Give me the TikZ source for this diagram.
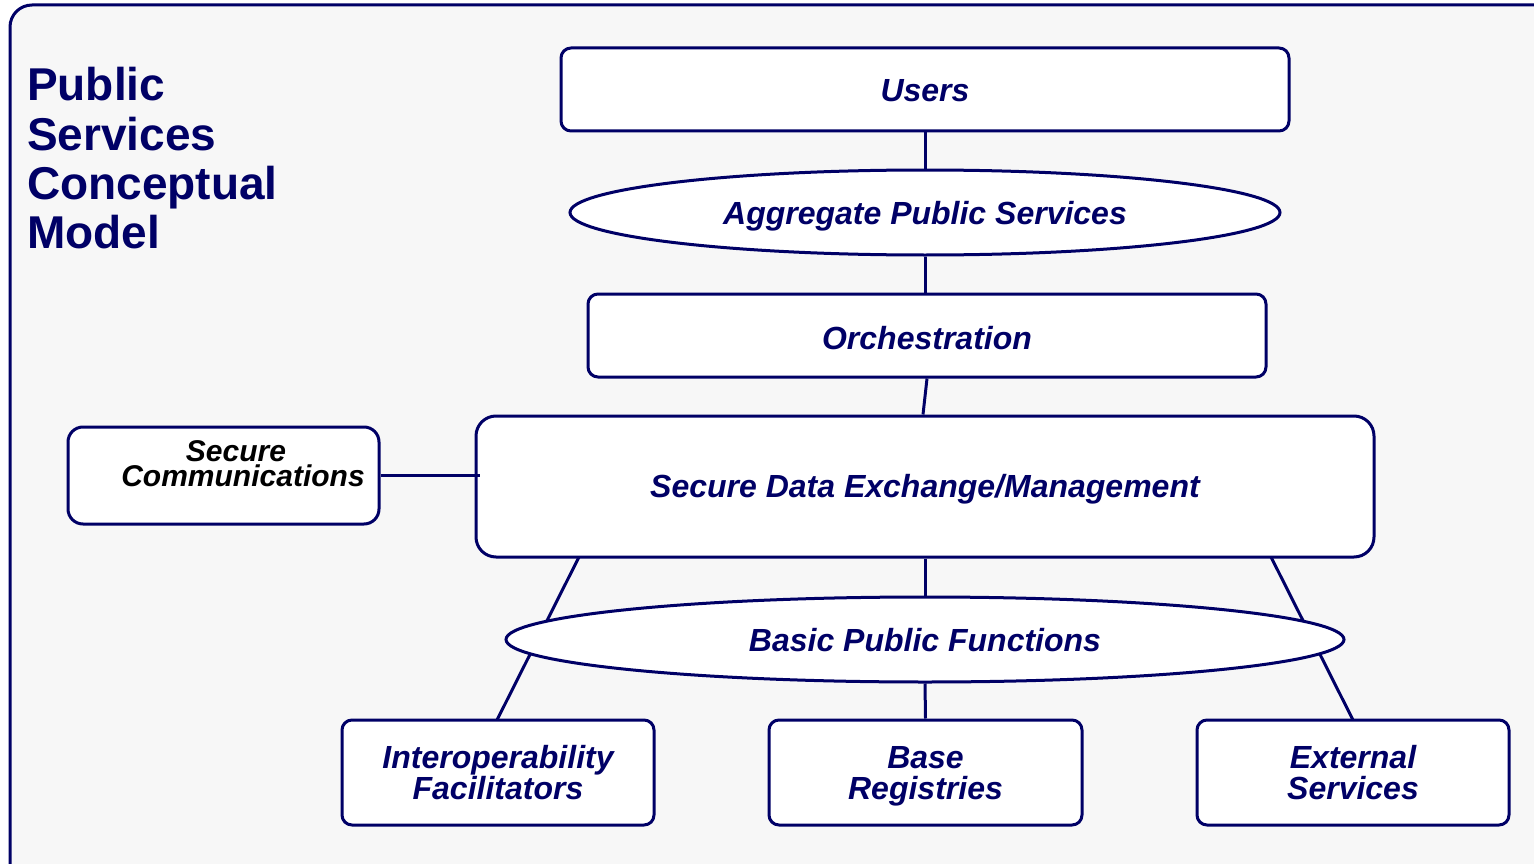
\documentclass[tikz,border=0pt]{standalone}
\usepackage{fontspec}
\setmainfont{Liberation Sans}
\usetikzlibrary{shapes.geometric}
\definecolor{navy}{HTML}{000066}
\definecolor{bgg}{HTML}{F7F7F7}
\tikzset{
  x=1pt,y=-1pt,
  conn/.style={draw=navy,line width=3pt},
  boxn/.style={draw=navy,line width=3pt,fill=white,rounded corners=10pt},
  ellip/.style={ellipse,draw=navy,line width=3pt,fill=white,inner sep=0pt},
  lbl/.style={anchor=base,inner sep=0pt,font=\bfseries\itshape\fontsize{32}{32}\selectfont,text=navy},
  scl/.style={anchor=base,inner sep=0pt,font=\bfseries\itshape\fontsize{30}{30}\selectfont},
  ttl/.style={anchor=base west,inner sep=0pt,font=\bfseries\fontsize{46}{46}\selectfont,text=navy}
}
\begin{document}
\begin{tikzpicture}
\useasboundingbox (0,0) rectangle (1534,864);
\draw[draw=navy,line width=3pt,fill=bgg,rounded corners=22pt] (10,5) rectangle (1560,890);
\node[ttl] (t1) at (27,101) {Public};
\node[ttl] (t2) at (27,150) {Services};
\node[ttl] (t3) at (27,199) {Conceptual};
\node[ttl] (t4) at (27,248) {Model};
% diagonal lines behind
\coordinate (sdeL) at (579,557);
\coordinate (sdeR) at (1271,557);
\coordinate (ioT) at (497,720);
\coordinate (exT) at (1353,720);
\draw[conn] (sdeL) -- (ioT);
\draw[conn] (sdeR) -- (exT);
% boxes
\node[boxn,minimum width=728pt,minimum height=83pt] (users) at (925,89.5) {};
\node[lbl] (usersT) at (925,102) {Users};
\node[ellip,minimum width=710pt,minimum height=85pt] (agg) at (925,212.5) {};
\node[lbl] (aggT) at (925,224) {Aggregate Public Services};
\node[boxn,minimum width=678pt,minimum height=83pt] (orch) at (927,335.5) {};
\node[lbl] (orchT) at (927,349) {Orchestration};
\node[boxn,rounded corners=20pt,minimum width=898pt,minimum height=141pt] (sde) at (925,486.5) {};
\node[lbl] (sdeT) at (925,497) {Secure Data Exchange/Management};
\node[boxn,rounded corners=15pt,minimum width=311pt,minimum height=97pt] (scm) at (223.5,475.5) {};
\node[scl,text=white] (scm3) at (239,511) {Management};
\node[scl,text=black] (scm1) at (236,461) {Secure};
\node[scl,text=black] (scm2) at (243,486) {Communications};
\node[ellip,minimum width=838pt,minimum height=85pt] (bpf) at (925,639.5) {};
\node[lbl] (bpfT) at (925,651) {Basic Public Functions};
\node[boxn,minimum width=312pt,minimum height=105pt] (io) at (498,772.5) {};
\node[lbl] (io1) at (498,768) {Interoperability};
\node[lbl] (io2) at (498,799) {Facilitators};
\node[boxn,minimum width=313pt,minimum height=105pt] (base) at (925.5,772.5) {};
\node[lbl] (base1) at (925.5,768) {Base};
\node[lbl] (base2) at (925.5,799) {Registries};
\node[boxn,minimum width=312pt,minimum height=105pt] (ext) at (1353,772.5) {};
\node[lbl] (ext1) at (1353,768) {External};
\node[lbl] (ext2) at (1353,799) {Services};
% vertical connectors
\draw[conn] (users.south) -- (agg.north);
\draw[conn] (agg.south) -- (orch.north -| agg.south);
\draw[conn] (orch.south) -- ([xshift=-2pt]sde.north);
\draw[conn] (sde.south) -- (bpf.north);
\draw[conn] (bpf.south) -- (base.north);
\draw[conn] (scm.east) -- ([xshift=5pt]sde.west |- scm.east);
\end{tikzpicture}
\end{document}
